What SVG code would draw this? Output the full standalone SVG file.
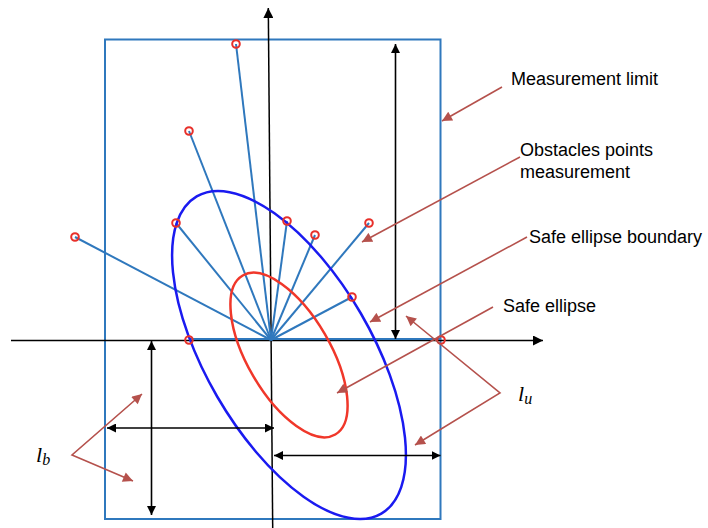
<svg xmlns="http://www.w3.org/2000/svg" width="708" height="528" viewBox="0 0 708 528">
<style>
.lim{fill:none;stroke:#2f78bd;stroke-width:2}
.ray{stroke:#2f78bd;stroke-width:2;fill:none}
.pt{fill:none;stroke:#e8302a;stroke-width:2}
.axis{stroke:#000;stroke-width:1.5;fill:none}
.dim{stroke:#000;stroke-width:1.6;fill:none;marker-start:url(#ak);marker-end:url(#ak)}
.call{stroke:#b5514c;stroke-width:1.6;fill:none}
.lbl{font-family:"Liberation Sans",Arial,sans-serif;font-size:18px;fill:#000}
.math{font-family:"Liberation Serif","Times New Roman",serif;font-style:italic;fill:#000}
</style>
<defs>
<marker id="ak" viewBox="0 0 10 10" refX="10" refY="5" markerWidth="9" markerHeight="9" markerUnits="userSpaceOnUse" orient="auto-start-reverse"><path d="M0,0 L10,5 L0,10 z" fill="#000"/></marker>
<marker id="ax" viewBox="0 0 10 10" refX="10" refY="5" markerWidth="11" markerHeight="10" markerUnits="userSpaceOnUse" orient="auto"><path d="M0,0 L10,5 L0,10 z" fill="#000"/></marker>
<marker id="ab" viewBox="0 0 10 10" refX="10" refY="5" markerWidth="11" markerHeight="10" markerUnits="userSpaceOnUse" orient="auto-start-reverse"><path d="M0,0 L10,5 L0,10 z" fill="#b5514c"/></marker>
</defs>

<g id="measurement-limit">
<rect class="lim" x="105" y="39.5" width="335.5" height="479.5"/>
</g>

<g id="axes">
<line class="axis" x1="11" y1="340.5" x2="543" y2="340.5" marker-end="url(#ax)"/>
<line class="axis" x1="272.7" y1="528" x2="268.3" y2="8" marker-end="url(#ax)"/>
</g>

<g id="rays">
<line class="ray" x1="271" y1="340" x2="236" y2="44"/>
<line class="ray" x1="271" y1="340" x2="189" y2="131"/>
<line class="ray" x1="271" y1="340" x2="176" y2="223"/>
<line class="ray" x1="271" y1="340" x2="75" y2="237"/>
<line class="ray" x1="271" y1="340" x2="287" y2="221"/>
<line class="ray" x1="271" y1="340" x2="315" y2="235"/>
<line class="ray" x1="271" y1="340" x2="369" y2="223"/>
<line class="ray" x1="271" y1="340" x2="352" y2="297"/>
<line class="ray" x1="189" y1="339" x2="441" y2="339"/>
</g>

<g id="safe-ellipse-boundary">
<ellipse cx="0" cy="0" rx="183.5" ry="83" transform="translate(289 355) rotate(59.8)" fill="none" stroke="#1a1af0" stroke-width="2.5"/>
</g>

<g id="safe-ellipse">
<ellipse cx="0" cy="0" rx="92" ry="41.5" transform="translate(289 355) rotate(59.8)" fill="none" stroke="#f0372a" stroke-width="2.5"/>
</g>

<g id="obstacle-points">
<circle class="pt" cx="236" cy="44" r="3.8"/>
<circle class="pt" cx="189" cy="131" r="3.8"/>
<circle class="pt" cx="176" cy="223" r="3.8"/>
<circle class="pt" cx="75" cy="237" r="3.8"/>
<circle class="pt" cx="287" cy="221" r="3.8"/>
<circle class="pt" cx="315" cy="235" r="3.8"/>
<circle class="pt" cx="369" cy="223" r="3.8"/>
<circle class="pt" cx="352" cy="297" r="3.8"/>
<circle class="pt" cx="189" cy="340" r="3.8"/>
<circle class="pt" cx="441" cy="340" r="3.8"/>
</g>

<g id="connectors">
<line class="dim" x1="395.5" y1="44" x2="395.5" y2="339"/>
<line class="dim" x1="151.5" y1="341" x2="151.5" y2="515"/>
<line class="dim" x1="107" y1="428" x2="274" y2="428"/>
<line class="dim" x1="274" y1="455.5" x2="440.5" y2="455.5"/>
<line class="call" x1="502" y1="87" x2="442" y2="121" marker-end="url(#ab)"/>
<line class="call" x1="520" y1="157" x2="362" y2="242" marker-end="url(#ab)"/>
<line class="call" x1="527" y1="237" x2="370" y2="322" marker-end="url(#ab)"/>
<line class="call" x1="493" y1="307" x2="337" y2="393" marker-end="url(#ab)"/>
<polyline class="call" points="406,316 500,393 415,445" marker-start="url(#ab)" marker-end="url(#ab)"/>
<polyline class="call" points="142,394 72,455 133,481" marker-start="url(#ab)" marker-end="url(#ab)"/>
</g>

<g id="labels">
<text class="lbl" x="511" y="85">Measurement limit</text>
<text class="lbl" x="520" y="155.5">Obstacles points</text>
<text class="lbl" x="520" y="178">measurement</text>
<text class="lbl" x="529" y="243">Safe ellipse boundary</text>
<text class="lbl" x="503" y="311.5">Safe ellipse</text>
<text class="math" x="518" y="401" font-size="22">l<tspan font-size="16" dy="3">u</tspan></text>
<text class="math" x="36" y="462" font-size="22">l<tspan font-size="16" dy="3">b</tspan></text>
</g>
</svg>
